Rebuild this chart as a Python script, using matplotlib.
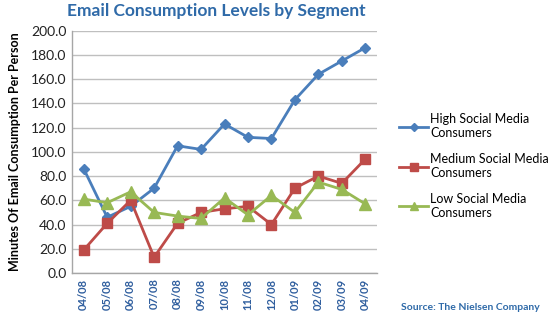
import matplotlib.pyplot as plt

months = ["04/08", "05/08", "06/08", "07/08", "08/08", "09/08", "10/08",
          "11/08", "12/08", "01/09", "02/09", "03/09", "04/09"]
high = [86, 46, 55, 70, 105, 102, 123, 112, 111, 143, 164, 175, 186]
medium = [19, 41, 60, 13, 41, 50, 53, 55, 40, 70, 80, 74, 94]
low = [61, 58, 67, 50, 47, 45, 62, 48, 64, 50, 75, 69, 57]
yticks = [0, 20, 40, 60, 80, 100, 120, 140, 160, 180, 200]
labels = ["High Social Media\nConsumers", "Medium Social Media\nConsumers",
          "Low Social Media\nConsumers"]

plt.rcParams['font.family'] = ['Lato', 'DejaVu Sans']

fig = plt.figure(figsize=(5.48, 3.23), dpi=100)
ax = fig.add_axes([72/548, 1-273/323, (377-72)/548, (273-30.7)/323])

blue, red, green = "#4A7EBB", "#BE4B48", "#98B954"
x = list(range(len(months)))
l1, = ax.plot(x, high, color=blue, lw=2.0, marker="D", ms=5.5, zorder=3)
l2, = ax.plot(x, medium, color=red, lw=2.0, marker="s", ms=7.5, zorder=3)
l3, = ax.plot(x, low, color=green, lw=2.0, marker="^", ms=8, zorder=3)

ax.set_xlim(-0.5, len(months)-0.5)
ax.set_ylim(0, 200)
ax.set_yticks(yticks)
ax.set_yticklabels([f"{v:.1f}" for v in yticks], fontsize=10, color="#222222")
ax.set_xticks(x)
ax.set_xticklabels(months, rotation=90, fontsize=8, color="#2F5E9E", fontweight="bold")
ax.tick_params(axis="both", length=0, pad=4)
ax.grid(axis="y", color="#BFBFBF", lw=1.0)
ax.set_axisbelow(True)
for s in ["top", "right"]:
    ax.spines[s].set_visible(False)
for s in ["left", "bottom"]:
    ax.spines[s].set_color("#A6A6A6")
    ax.spines[s].set_linewidth(1.0)

ax.set_ylabel("Minutes Of Email Consumption Per Person", fontsize=9,
              fontweight="bold", color="black", labelpad=7)

fig.text(216/548, 1-11/323, "Email Consumption Levels by Segment", ha="center",
         va="center", fontsize=12.5, fontweight="bold", color="#2F6AA8")

leg = fig.legend([l1, l2, l3], labels, loc="upper left",
                 bbox_to_anchor=(388/548, 1-102/323), frameon=False,
                 fontsize=9, handlelength=2.3, labelspacing=1.1,
                 handletextpad=0.2, markerscale=0.7)

fig.text(540/548, 1-307/323, "Source: The Nielsen Company", ha="right",
         va="center", fontsize=7.5, fontweight="bold", color="#2F6AA8")

fig.savefig("out.png", dpi=100)
